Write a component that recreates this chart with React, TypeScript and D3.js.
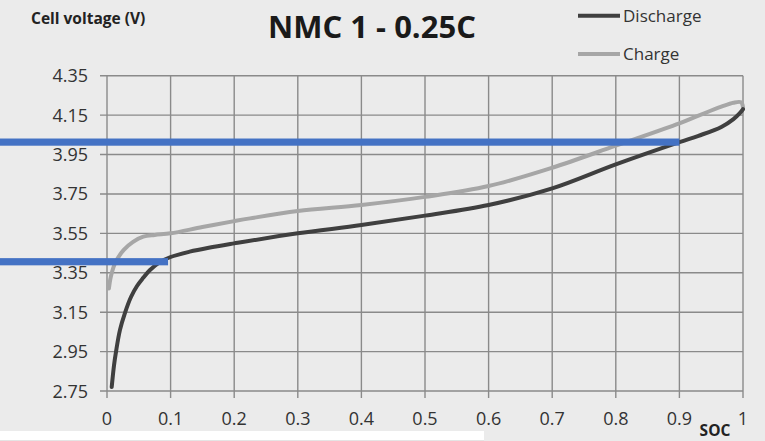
import React from "react";
import * as d3 from "d3";

const xTicks = [0, 0.1, 0.2, 0.3, 0.4, 0.5, 0.6, 0.7, 0.8, 0.9, 1];
const yTicks = [2.75, 2.95, 3.15, 3.35, 3.55, 3.75, 3.95, 4.15, 4.35];

const dischargeSoc = [0.0074, 0.011, 0.0142, 0.0204, 0.0283, 0.0377, 0.0472, 0.0566, 0.0676, 0.0833, 0.1, 0.13, 0.16, 0.2, 0.3, 0.4, 0.5, 0.6, 0.7, 0.8, 0.9, 0.93, 0.966, 0.985, 0.995, 1.0];
const dischargeV = [2.77, 2.88, 2.95, 3.06, 3.147, 3.227, 3.283, 3.323, 3.364, 3.404, 3.43, 3.457, 3.477, 3.499, 3.55, 3.592, 3.64, 3.694, 3.778, 3.9, 4.013, 4.045, 4.09, 4.13, 4.16, 4.18];

const chargeSoc = [0.003, 0.006, 0.0126, 0.026, 0.041, 0.057, 0.075, 0.1, 0.15, 0.2, 0.225, 0.3, 0.4, 0.5, 0.6, 0.7, 0.8, 0.9, 0.932, 0.966, 0.985, 0.997, 1.0];
const chargeV = [3.27, 3.33, 3.398, 3.465, 3.507, 3.533, 3.542, 3.55, 3.582, 3.612, 3.626, 3.663, 3.694, 3.735, 3.79, 3.883, 3.995, 4.108, 4.15, 4.193, 4.213, 4.215, 4.19];

const markerLevels = [4.013, 3.406];
const markerEnds = [0.9, 0.096];

export default function App() {
  const W = 765, H = 441;
  const x = d3.scaleLinear().domain([0, 1]).range([107, 743]);
  const y = d3.scaleLinear().domain([2.75, 4.35]).range([391, 75.7]);
  const line = d3
    .line<[number, number]>()
    .x((d) => x(d[0]))
    .y((d) => y(d[1]))
    .curve(d3.curveCatmullRom.alpha(0.5));
  const dis = dischargeSoc.map((s, i) => [s, dischargeV[i]] as [number, number]);
  const chg = chargeSoc.map((s, i) => [s, chargeV[i]] as [number, number]);
  const font = "'Open Sans', sans-serif";
  const grid = "#8a8a8a";
  return (
    <svg width={W} height={H} style={{ position: "absolute", left: 0, top: 0 }} fontFamily={font}>
      <rect x={0} y={0} width={W} height={H} fill="#ebebeb" />
      {xTicks.map((t) => (
        <line key={"gx" + t} x1={x(t)} x2={x(t)} y1={y(4.35)} y2={y(2.75) + 7} stroke={grid} strokeWidth={1.4} />
      ))}
      {yTicks.map((t) => (
        <line key={"gy" + t} x1={x(0) - 7} x2={x(1)} y1={y(t)} y2={y(t)} stroke={grid} strokeWidth={1.4} />
      ))}
      {yTicks.map((t) => (
        <text key={"ly" + t} x={88} y={y(t) + 6.5} textAnchor="end" fontSize={18} fill="#333">
          {t.toFixed(2)}
        </text>
      ))}
      {xTicks.map((t) => (
        <text key={"lx" + t} x={x(t)} y={425} textAnchor="middle" fontSize={18} fill="#333">
          {String(t)}
        </text>
      ))}
      <path d={line(chg) || ""} fill="none" stroke="#a6a6a6" strokeWidth={4} strokeLinecap="round" />
      <path d={line(dis) || ""} fill="none" stroke="#3f3f3f" strokeWidth={4} strokeLinecap="round" />
      {markerLevels.map((v, i) => (
        <rect key={"m" + i} x={0} y={y(v) - 3.6} width={x(markerEnds[i])} height={7.2} fill="#4472c4" />
      ))}
      <text x={31} y={24} fontSize={15.5} fontWeight="bold" fill="#222">Cell voltage (V)</text>
      <text x={372} y={38} textAnchor="middle" fontSize={31} fontWeight="bold" fill="#1a1a1a">NMC 1 - 0.25C</text>
      <line x1={578} x2={620} y1={15.7} y2={15.7} stroke="#3f3f3f" strokeWidth={4} />
      <text x={623} y={22} fontSize={17} fill="#333">Discharge</text>
      <line x1={578} x2={620} y1={54} y2={54} stroke="#a6a6a6" strokeWidth={4} />
      <text x={623} y={59.5} fontSize={17} fill="#333">Charge</text>
      <text x={715} y={436} textAnchor="middle" fontSize={15.5} fontWeight="bold" fill="#222">SOC</text>
      <rect x={0} y={431} width={484} height={10} fill="#ffffff" />
      <line x1={0} x2={484} y1={440.5} y2={440.5} stroke="#e4e4e4" strokeWidth={1} />
    </svg>
  );
}
